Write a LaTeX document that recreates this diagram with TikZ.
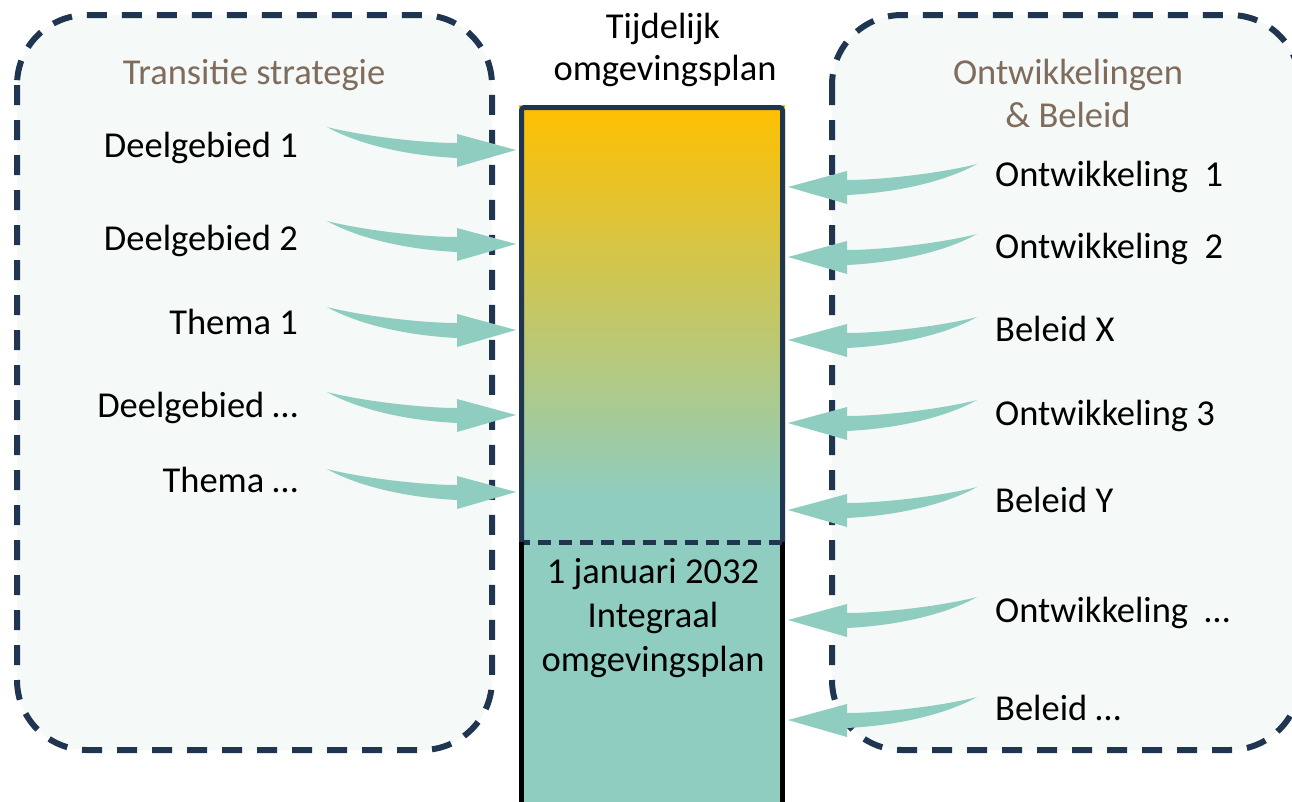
\documentclass[tikz,border=0pt]{standalone}
\usepackage{fontspec}
\setmainfont{Carlito}
\usetikzlibrary{calc}
\definecolor{navy}{RGB}{31,53,80}
\definecolor{tealA}{RGB}{142,205,192}
\definecolor{goldA}{RGB}{255,192,0}
\definecolor{boxbg}{RGB}{245,249,248}
\definecolor{brownA}{RGB}{128,108,92}
\begin{document}
\begin{tikzpicture}[x=1pt,y=-1pt,
  panel/.style={draw=navy, line width=6pt, dash pattern=on 20pt off 15pt, fill=boxbg, rounded corners=70pt},
  lbl/.style={font=\fontsize{36.5}{43}\selectfont, inner sep=0pt, text=black},
  ttl/.style={lbl, text=brownA},
  bigarrow/.pic={\fill[tealA] (0,0) .. controls (35,9) and (95,16) .. (130,16) -- (130,7) -- (189,23) -- (130,40) -- (130,31) .. controls (70,28) and (25,14) .. cycle;}
]
\useasboundingbox (0,0) rectangle (1292,801);
\clip (0,0) rectangle (1292,801);
\fill[white] (0,0) rectangle (1292,801);

% panels
\draw[panel] (17,15) rectangle (492,750);
\draw[panel] (832,15) rectangle (1300,750);

% central bar
\shade[top color=goldA, bottom color=tealA] (519,105) rectangle (785,500);
\fill[tealA] (519,499) rectangle (785,810);
\draw[navy, line width=5pt, rounded corners=3pt] (521.5,542) -- (521.5,107.5) -- (782.5,107.5) -- (782.5,542);
\draw[black, line width=5.5pt] (521.5,542) -- (521.5,810);
\draw[black, line width=5.5pt] (782.5,542) -- (782.5,810);
\draw[navy, line width=5pt, dash pattern=on 13pt off 8pt, dash phase=-14pt] (524,542) -- (785,542);

% arrow anchors
\coordinate (lt1) at (327,127);
\coordinate (lt2) at (327,221);
\coordinate (lt3) at (327,307);
\coordinate (lt4) at (327,392);
\coordinate (lt5) at (327,469);
\coordinate (rt1) at (977,164);
\coordinate (rt2) at (977,234);
\coordinate (rt3) at (977,317);
\coordinate (rt4) at (977,400);
\coordinate (rt5) at (977,487);
\coordinate (rt6) at (977,597);
\coordinate (rt7) at (977,697);

\foreach \n in {lt1,lt2,lt3,lt4,lt5} { \pic at (\n) {bigarrow}; }
\foreach \n in {rt1,rt2,rt3,rt4,rt5,rt6,rt7} { \pic[xscale=-1] at (\n) {bigarrow}; }

% titles
\node[ttl, anchor=base] (tl) at (254,84) {Transitie strategie};
\node[ttl, anchor=base] (tr1) at (1068,84) {Ontwikkelingen};
\node[ttl, anchor=base] (tr2) at (1068,127) {\& Beleid};
\node[lbl, anchor=base] (tc1) at (663,38) {Tijdelijk};
\node[lbl, anchor=base] (tc2) at (665,80) {omgevingsplan};
\node[lbl, anchor=base] (bc1) at (653,583) {1 januari 2032};
\node[lbl, anchor=base] (bc2) at (653,627) {Integraal};
\node[lbl, anchor=base] (bc3) at (653,671) {omgevingsplan};

% left labels
\node[lbl, anchor=base east] (l1) at (298,157) {Deelgebied 1};
\node[lbl, anchor=base east] (l2) at (298,250) {Deelgebied 2};
\node[lbl, anchor=base east] (l3) at (298,334) {Thema 1};
\node[lbl, anchor=base east] (l4) at (298,417) {Deelgebied …};
\node[lbl, anchor=base east] (l5) at (298,492) {Thema …};

% right labels
\node[lbl, anchor=base west] (r1) at (995,186) {Ontwikkeling\ \ 1};
\node[lbl, anchor=base west] (r2) at (995,258) {Ontwikkeling\ \ 2};
\node[lbl, anchor=base west] (r3) at (995,341) {Beleid X};
\node[lbl, anchor=base west] (r4) at (995,425) {Ontwikkeling 3};
\node[lbl, anchor=base west] (r5) at (995,512) {Beleid Y};
\node[lbl, anchor=base west] (r6) at (995,622) {Ontwikkeling\ \ …};
\node[lbl, anchor=base west] (r7) at (995,720) {Beleid …};
\end{tikzpicture}
\end{document}
